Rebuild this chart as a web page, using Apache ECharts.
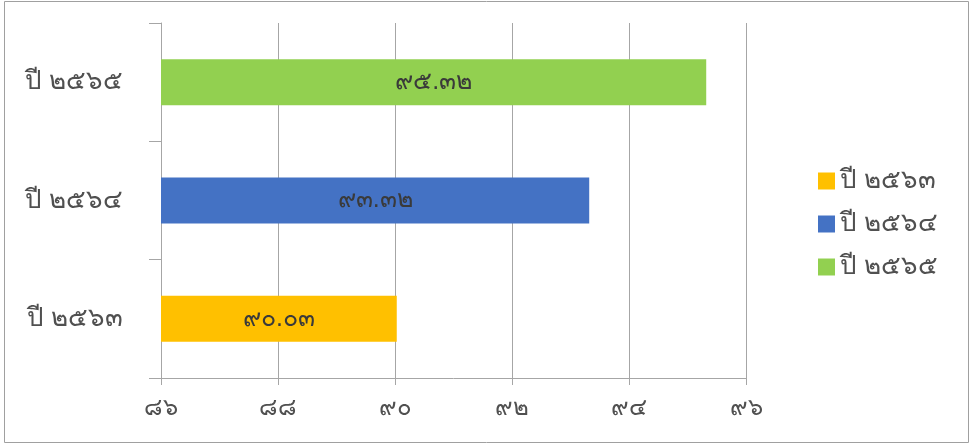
<!DOCTYPE html>
<html>
<head>
<meta charset="utf-8">
<script src="https://cdn.jsdelivr.net/npm/echarts@6/dist/echarts.min.js"></script>
<style>
  html, body { margin: 0; padding: 0; background: #fff; }
  #chart { width: 972px; height: 445px; }
</style>
</head>
<body>
<div id="chart"></div>
<script>
// categories (bottom to top) and values
const years = ['ปี ๒๕๖๓', 'ปี ๒๕๖๔', 'ปี ๒๕๖๕'];
const values = [90.03, 93.32, 95.32];
const colors = ['#FFC000', '#4472C4', '#92D050'];

// Arabic digits -> Thai digits
const thaiDigits = ['๐', '๑', '๒', '๓', '๔', '๕', '๖', '๗', '๘', '๙'];
function toThai(s) {
  return String(s).replace(/[0-9]/g, d => thaiDigits[+d]);
}

const txt = '#505050';
const chart = echarts.init(document.getElementById('chart'));

// one series per year so each gets its own legend entry
const series = years.map((name, i) => ({
  name: name,
  type: 'bar',
  stack: 'one',
  barWidth: 46,
  itemStyle: { color: colors[i] },
  label: {
    show: true,
    position: 'inside',
    color: '#3a3a3a',
    fontSize: 25,
    fontWeight: 300,
    formatter: p => toThai(p.value.toFixed(2))
  },
  data: years.map((_, j) => (j === i ? values[i] : null))
}));

chart.setOption({
  animation: false,
  graphic: [{
    type: 'rect',
    shape: { x: 4.5, y: 1.5, width: 964, height: 441 },
    style: { fill: 'none', stroke: '#a0a0a0', lineWidth: 1 },
    silent: true
  }],
  grid: { left: 161, right: 226, top: 23, bottom: 67 },
  legend: {
    orient: 'vertical',
    left: 813,
    top: 163,
    icon: 'rect',
    itemWidth: 17,
    itemHeight: 17,
    itemGap: 17,
    textStyle: { color: txt, fontSize: 26, fontWeight: 300 },
    data: years
  },
  xAxis: {
    type: 'value',
    min: 86,
    max: 96,
    interval: 2,
    axisLine: { show: true, lineStyle: { color: '#a6a6a6' } },
    axisTick: { show: true, length: 7, lineStyle: { color: '#a6a6a6' } },
    splitLine: { show: true, lineStyle: { color: '#a6a6a6' } },
    axisLabel: {
      color: txt,
      fontSize: 24,
      fontWeight: 300,
      margin: 18,
      formatter: v => toThai(v)
    }
  },
  yAxis: {
    type: 'category',
    data: years,
    axisLine: { show: true, lineStyle: { color: '#a6a6a6' } },
    axisTick: { show: true, length: 12, lineStyle: { color: '#a6a6a6' } },
    axisLabel: { color: txt, fontSize: 26, fontWeight: 300, margin: 38 }
  },
  series: series
});
</script>
</body>
</html>
